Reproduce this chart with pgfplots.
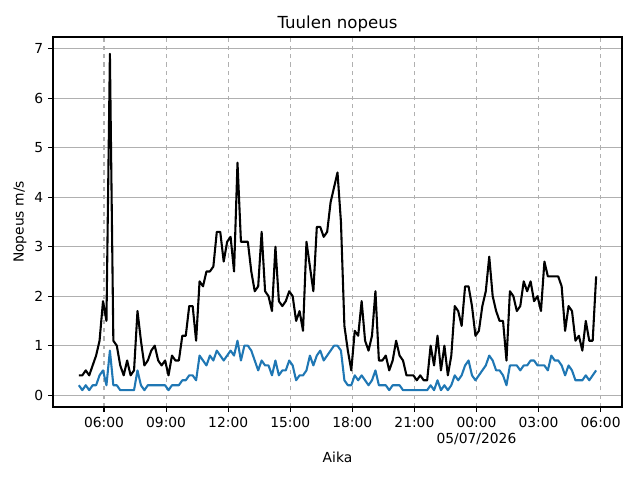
\documentclass[border=0pt]{standalone}
\usepackage{fontspec}
\setmainfont{DejaVu Sans}
\usepackage{pgfplots}
\pgfplotsset{compat=1.18}
\usepackage{pgfplotstable}
\definecolor{mplblue}{HTML}{1F77B4}
\definecolor{gridgray}{HTML}{B0B0B0}
\pgfplotstableread{
t g w
287 0.4 0.2
297 0.4 0.1
307 0.5 0.2
317 0.4 0.1
327 0.6 0.2
337 0.8 0.2
347 1.1 0.4
357 1.9 0.5
367 1.5 0.2
377 6.9 0.9
387 1.1 0.2
397 1.0 0.2
407 0.6 0.1
417 0.4 0.1
427 0.7 0.1
437 0.4 0.1
447 0.5 0.1
457 1.7 0.5
467 1.1 0.2
477 0.6 0.1
487 0.7 0.2
497 0.9 0.2
507 1.0 0.2
517 0.7 0.2
527 0.6 0.2
537 0.7 0.2
547 0.4 0.1
557 0.8 0.2
567 0.7 0.2
577 0.7 0.2
587 1.2 0.3
597 1.2 0.3
607 1.8 0.4
617 1.8 0.4
627 1.1 0.3
637 2.3 0.8
647 2.2 0.7
657 2.5 0.6
667 2.5 0.8
677 2.6 0.7
687 3.3 0.9
697 3.3 0.8
707 2.7 0.7
717 3.1 0.8
727 3.2 0.9
737 2.5 0.8
747 4.7 1.1
757 3.1 0.7
767 3.1 1.0
777 3.1 1.0
787 2.5 0.9
797 2.1 0.7
807 2.2 0.5
817 3.3 0.7
827 2.1 0.6
837 2.0 0.6
847 1.7 0.4
857 3.0 0.7
867 1.9 0.4
877 1.8 0.5
887 1.9 0.5
897 2.1 0.7
907 2.0 0.6
917 1.5 0.3
927 1.7 0.4
937 1.3 0.4
947 3.1 0.5
957 2.6 0.8
967 2.1 0.6
977 3.4 0.8
987 3.4 0.9
997 3.2 0.7
1007 3.3 0.8
1017 3.9 0.9
1027 4.2 1.0
1037 4.5 1.0
1047 3.5 0.9
1057 1.4 0.3
1067 0.9 0.2
1077 0.5 0.2
1087 1.3 0.4
1097 1.2 0.3
1107 1.9 0.4
1117 1.1 0.3
1127 0.9 0.2
1137 1.2 0.3
1147 2.1 0.5
1157 0.7 0.2
1167 0.7 0.2
1177 0.8 0.2
1187 0.5 0.1
1197 0.7 0.2
1207 1.1 0.2
1217 0.8 0.2
1227 0.7 0.1
1237 0.4 0.1
1247 0.4 0.1
1257 0.4 0.1
1267 0.3 0.1
1277 0.4 0.1
1287 0.3 0.1
1297 0.3 0.1
1307 1.0 0.2
1317 0.6 0.1
1327 1.2 0.3
1337 0.5 0.1
1347 1.0 0.2
1357 0.4 0.1
1367 0.8 0.2
1377 1.8 0.4
1387 1.7 0.3
1397 1.4 0.4
1407 2.2 0.6
1417 2.2 0.7
1427 1.8 0.4
1437 1.2 0.3
1447 1.3 0.4
1457 1.8 0.5
1467 2.1 0.6
1477 2.8 0.8
1487 2.0 0.7
1497 1.7 0.5
1507 1.5 0.5
1517 1.5 0.4
1527 0.7 0.2
1537 2.1 0.6
1547 2.0 0.6
1557 1.7 0.6
1567 1.8 0.5
1577 2.3 0.6
1587 2.1 0.6
1597 2.3 0.7
1607 1.9 0.7
1617 2.0 0.6
1627 1.7 0.6
1637 2.7 0.6
1647 2.4 0.5
1657 2.4 0.8
1667 2.4 0.7
1677 2.4 0.7
1687 2.2 0.6
1697 1.3 0.4
1707 1.8 0.6
1717 1.7 0.5
1727 1.1 0.3
1737 1.2 0.3
1747 0.9 0.3
1757 1.5 0.4
1767 1.1 0.3
1777 1.1 0.4
1787 2.4 0.5
}\data
\begin{document}
\begin{tikzpicture}
\path[use as bounding box] (-38.16bp,-52.56bp) rectangle (422.64bp,293.04bp);
\begin{axis}[
  at={(0,0)}, anchor=south west,
  scale only axis, width=409.68bp, height=266.4bp,
  xmin=212, xmax=1862, ymin=-0.24, ymax=7.24,
  xtick={360,540,720,900,1080,1260,1440,1620,1800},
  xticklabels={06:00,09:00,12:00,15:00,18:00,21:00,{00:00\\05/07/2026},03:00,06:00},
  xticklabel style={align=center, font=\fontsize{10}{12}\selectfont},
  yticklabel style={font=\fontsize{10}{12}\selectfont},
  ytick={0,1,2,3,4,5,6,7},
  tick align=outside, tick pos=left,
  major tick length=3.5bp,
  grid=major,
  x grid style={gridgray, dashed, line width=0.8bp},
  y grid style={gridgray, line width=0.8bp},
  axis line style={line width=0.8bp},
  every tick/.style={black, line width=0.8bp},
  /pgf/number format/assume math mode=true,
  title={Tuulen nopeus},
  title style={font=\fontsize{12}{14}\selectfont, at={(axis description cs:0.5,1)}, anchor=base},
  xlabel={Aika},
  xlabel style={font=\fontsize{10}{12}\selectfont, at={(axis description cs:0.5,-0.135)}, anchor=center},
  ylabel={Nopeus m/s},
  ylabel style={font=\fontsize{10}{12}\selectfont, at={(axis description cs:-0.058,0.5)}, anchor=center, rotate=0},
]
\addplot[black, line width=1.5bp, line join=round] table[x=t,y=g]{\data};
\addplot[mplblue, line width=1.5bp, line join=round] table[x=t,y=w]{\data};
\end{axis}
\end{tikzpicture}
\end{document}
